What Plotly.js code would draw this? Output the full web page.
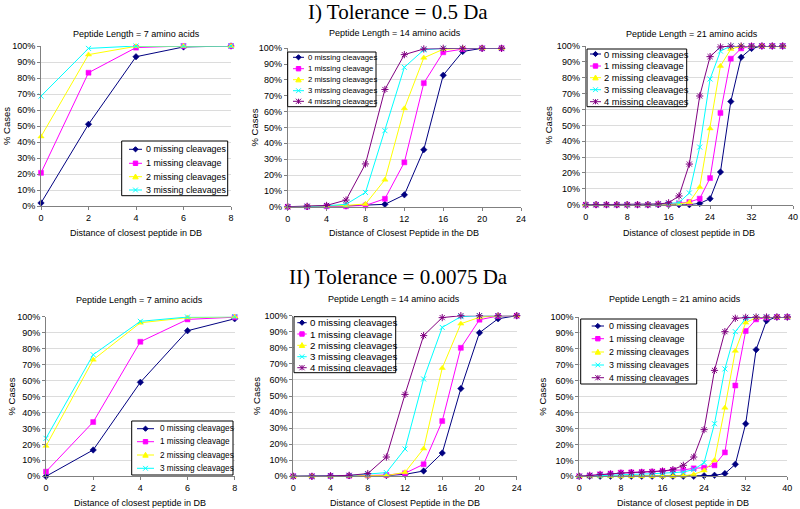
<!DOCTYPE html>
<html><head><meta charset="utf-8">
<script src="https://cdn.plot.ly/plotly-3.0.1.min.js"></script>
<style>html,body{margin:0;padding:0;background:#fff}#chart{width:800px;height:509px}</style>
</head><body><div id="chart"></div>
<script>
// ---------- DATA ----------
const seriesNames = ['0 missing cleavages','1 missing cleavage','2 missing cleavages','3 missing cleavages','4 missing cleavages'];
const sectionTitles = ['I) Tolerance = 0.5 Da','II) Tolerance = 0.0075 Da'];
const panelTitles = ['Peptide Length = 7 amino acids','Peptide Length = 14 amino acids','Peptide Length = 21 amino acids',
                     'Peptide Length = 7 amino acids','Peptide Length = 14 amino acids','Peptide Length = 21 amino acids'];
const xTitles = ['Distance of closest peptide in DB','Distance of Closest Peptide in the DB','Distance of closest peptide in DB',
                 'Distance of closest peptide in DB','Distance of Closest Peptide in the DB','Distance of closest peptide in DB'];
const yTitle = '% Cases';

// Tolerance 0.5 Da
const xA7  = [0,2,4,6,8];
const a7_0 = [1.9, 51.1, 93.3, 99.4, 100];
const a7_1 = [20.7, 83.3, 99, 100, 100];
const a7_2 = [43.4, 94.6, 99.8, 100, 100];
const a7_3 = [68.7, 98.5, 100, 100, 100];

const xA14  = [0,2,4,6,8,10,12,14,16,18,20,22];
const a14_0 = [0, 0, 0.3, 0.5, 1, 1.5, 7.5, 36, 83, 98, 100, 100];
const a14_1 = [0, 0, 0.3, 0.3, 0.8, 5, 28, 78, 97.5, 99.5, 100, 100];
const a14_2 = [0, 0, 0.4, 0.8, 1.7, 17, 62, 94, 99.4, 100, 100, 100];
const a14_3 = [0, 0, 0.6, 1.5, 9, 48, 88, 99, 100, 100, 100, 100];
const a14_4 = [0, 0.3, 0.8, 4.2, 27, 74, 96, 99.6, 100, 100, 100, 100];

const xA21  = [0,2,4,6,8,10,12,14,16,18,20,22,24,26,28,30,32,34,36,38];
const a21_0 = [0,0,0,0,0,0,0,0,0,0,0, 0.8, 3.8, 20.6, 65, 92.9, 98.5, 100, 100, 100];
const a21_1 = [0,0,0,0,0,0,0,0.3,0.5,0.8, 1.7, 3.8, 16.8, 57.8, 92, 98.5, 100, 100, 100, 100];
const a21_2 = [0,0,0,0,0,0,0,0.2,0.3,0.5, 1.5, 11, 48, 87.4, 98, 100, 100, 100, 100, 100];
const a21_3 = [0,0,0,0,0,0,0,0.3,0.8,1.3, 7.4, 36.3, 79.2, 96.8, 100, 100, 100, 100, 100, 100];
const a21_4 = [0,0,0,0,0,0,0,0.4,1.2,5.5, 25.6, 68.5, 93.3, 99.4, 100, 100, 100, 100, 100, 100];

// Tolerance 0.0075 Da
const xB7  = [0,2,4,6,8];
const b7_0 = [0, 16.5, 58.9, 91.2, 98.7];
const b7_1 = [2.9, 34, 84.3, 98.3, 99.7];
const b7_2 = [19, 73, 96.2, 99.4, 100];
const b7_3 = [23.8, 76.2, 97.1, 99.8, 100];

const xB14  = [0,2,4,6,8,10,12,14,16,18,20,22,24];
const b14_0 = [0, 0, 0.2, 0.3, 0.4, 0.5, 1.2, 3.3, 14.5, 54.6, 89.4, 98.1, 100];
const b14_1 = [0, 0, 0.2, 0.3, 0.5, 0.8, 1.9, 7.5, 34.4, 80, 97.5, 99.8, 100];
const b14_2 = [0, 0, 0.1, 0.1, 0.2, 0.4, 2.5, 17.2, 67.4, 95, 99, 100, 100];
const b14_3 = [0, 0, 0.3, 0.5, 1.2, 2.3, 17, 60.6, 92.7, 99.4, 100, 100, 100];
const b14_4 = [0, 0, 0.3, 0.6, 1.7, 12, 51, 87.6, 98.8, 100, 100, 100, 100];

const xB21  = [0,2,4,6,8,10,12,14,16,18,20,22,24,26,28,30,32,34,36,38,40];
const b21_0 = [0,0,0,0,0,0,0,0,0,0,0,0, 0.4, 0.6, 1.7, 7.5, 33, 79.5, 97.7, 100, 100];
const b21_1 = [0, 0.5, 1.2, 1.7, 2.3, 2.5, 2.7, 2.9, 3.3, 3.8, 4, 5, 5.4, 6.9, 15, 57, 91.2, 98.5, 99.6, 100, 100];
const b21_2 = [0,0,0,0,0,0,0,0,0,0, 0.3, 1.2, 3.6, 10, 43, 78.7, 96.4, 99.6, 100, 100, 100];
const b21_3 = [0, 0.3, 0.5, 0.8, 1, 1.2, 1.4, 1.6, 2, 2.7, 2.7, 4.2, 8.6, 33, 67.4, 90.8, 99, 100, 100, 100, 100];
const b21_4 = [0, 0.6, 1.2, 1.5, 2, 2.3, 2.5, 2.7, 3.3, 4.2, 6.9, 12.1, 29.3, 66.5, 90.8, 99.2, 99.8, 100, 100, 100, 100];

const panelX = [xA7, xA14, xA21, xB7, xB14, xB21];
const panelY = [[a7_0,a7_1,a7_2,a7_3],[a14_0,a14_1,a14_2,a14_3,a14_4],[a21_0,a21_1,a21_2,a21_3,a21_4],
                [b7_0,b7_1,b7_2,b7_3],[b14_0,b14_1,b14_2,b14_3,b14_4],[b21_0,b21_1,b21_2,b21_3,b21_4]];
const xRanges = [[0,8],[0,24],[0,40],[0,8],[0,24],[0,40]];
const xDticks = [2,4,8,2,4,8];

// ---------- STYLE / LAYOUT ----------
const W = 800, H = 509;
const px = p => p / W, py = p => 1 - p / H;
const colors  = ['#000080','#FF00FF','#FFFF00','#00FFFF','#800080'];
const symbols = ['diamond','square','triangle-up','x-thin-open','asterisk-open'];
const msizes  = [5, 5, 5.5, 5, 6];
const FONT = 'Liberation Sans, Arial, sans-serif';

// plot areas in pixels: [left, right, top, bottom]
const boxes = [[41,231,46,206],[287.7,521,48.3,206.7],[585.7,793,46,204.7],
               [46,234.7,316.7,476.3],[293.3,516.7,315.7,476.3],[579.3,787.3,317,476.3]];
const titleY = [34,33,34,299.7,299,299];
const titleX = [136,395,692,139.5,394,675.3];
const xTitleY = [232.7,232.7,232.7,503,503,503];
const yTitleX = [7,254,548,11,256,543];
// legend geometry in pixels
const legends = [
  {box:[121.7,141,227.7,195.7], rows:[149.3,163.3,176.7,190], s:[129,142], tx:144.3, fs:8.9},
  {box:[287.7,52,376,106.7], rows:[57.3,68.7,79.7,90.7,101.3], s:[293,304], tx:305.5, fs:7.7},
  {box:[587,49,686.7,106.7], rows:[54,66,77.7,89.7,101.7], s:[590,601], tx:602, fs:9.4},
  {box:[131.7,421,233,475], rows:[428.7,441.7,455,468.3], s:[137,154], tx:157.5, fs:8.2},
  {box:[294,316.7,395.7,372.7], rows:[322.7,334,345.3,356.7,367.7], s:[297.3,306.7], tx:307.5, fs:9.7},
  {box:[580.7,319,696.7,384], rows:[326,338.7,352,365,377.7], s:[591.7,604], tx:606.5, fs:8.9}
];

function markerPath(k, cx, cy) {
  const P = (x, y) => px(x).toFixed(5) + ',' + py(y).toFixed(5);
  if (k === 0) { const r = 2.6; return `M${P(cx,cy-r)}L${P(cx+r,cy)}L${P(cx,cy+r)}L${P(cx-r,cy)}Z`; }
  if (k === 1) { const r = 2.2; return `M${P(cx-r,cy-r)}L${P(cx+r,cy-r)}L${P(cx+r,cy+r)}L${P(cx-r,cy+r)}Z`; }
  if (k === 2) { const r = 2.7; return `M${P(cx,cy-r)}L${P(cx+r,cy+r*0.8)}L${P(cx-r,cy+r*0.8)}Z`; }
  if (k === 3) { const r = 2.4; return `M${P(cx-r,cy-r)}L${P(cx+r,cy+r)}M${P(cx+r,cy-r)}L${P(cx-r,cy+r)}`; }
  const r = 2.6;
  return `M${P(cx-r,cy-r)}L${P(cx+r,cy+r)}M${P(cx+r,cy-r)}L${P(cx-r,cy+r)}M${P(cx,cy-r)}L${P(cx,cy+r)}`;
}

const data = [];
const layout = {
  width: W, height: H, margin: {l:0, r:0, t:0, b:0},
  paper_bgcolor: '#fff', plot_bgcolor: '#fff', showlegend: false,
  font: {family: FONT, size: 9, color: '#000'},
  annotations: [], shapes: []
};

panelX.forEach((xs, p) => {
  const sfx = p === 0 ? '' : String(p + 1);
  const b = boxes[p];
  layout['xaxis' + sfx] = {
    domain: [px(b[0]), px(b[1])], anchor: 'y' + sfx, range: xRanges[p], tick0: 0, dtick: xDticks[p],
    showgrid: false, zeroline: false, showline: true, linecolor: '#808080', linewidth: 1,
    ticks: 'outside', ticklen: 3, tickcolor: '#808080', tickfont: {family: FONT, size: 9, color: '#000'}, fixedrange: true
  };
  layout['yaxis' + sfx] = {
    domain: [py(b[3]), py(b[2])], anchor: 'x' + sfx, range: [0, 100], tick0: 0, dtick: 10, ticksuffix: '%',
    showgrid: true, gridcolor: '#dcdcdc', gridwidth: 1, zeroline: false, showline: true, linecolor: '#808080', linewidth: 1,
    ticks: 'outside', ticklen: 3, tickcolor: '#808080', tickfont: {family: FONT, size: 9, color: '#000'}, fixedrange: true
  };
  panelY[p].forEach((ys, k) => {
    const open = k >= 3;
    data.push({
      type: 'scatter', mode: 'lines+markers', x: xs, y: ys, name: seriesNames[k],
      xaxis: 'x' + sfx, yaxis: 'y' + sfx, cliponaxis: false,
      line: {color: colors[k], width: 1},
      marker: {symbol: symbols[k], size: msizes[k], color: colors[k], line: {color: colors[k], width: open ? 1 : 0.5}}
    });
  });
  // titles
  layout.annotations.push({xref:'paper', yref:'paper', x: px(titleX[p]), y: py(titleY[p]), xanchor:'center', yanchor:'middle',
    text: panelTitles[p], showarrow:false, font:{family:FONT, size:9, color:'#000'}});
  layout.annotations.push({xref:'paper', yref:'paper', x: px((b[0]+b[1])/2), y: py(xTitleY[p]), xanchor:'center', yanchor:'middle',
    text: xTitles[p], showarrow:false, font:{family:FONT, size:9, color:'#000'}});
  layout.annotations.push({xref:'paper', yref:'paper', x: px(yTitleX[p]), y: py((b[2]+b[3])/2), xanchor:'center', yanchor:'middle',
    text: yTitle, textangle:-90, showarrow:false, font:{family:FONT, size:9.5, color:'#000'}});
  // legend
  const L = legends[p];
  layout.shapes.push({type:'rect', xref:'paper', yref:'paper', x0:px(L.box[0]), x1:px(L.box[2]), y0:py(L.box[3]), y1:py(L.box[1]),
    line:{color:'#000', width:1}, fillcolor:'#fff', layer:'above'});
  panelY[p].forEach((ys, k) => {
    const ry = L.rows[k];
    layout.shapes.push({type:'line', xref:'paper', yref:'paper', x0:px(L.s[0]), x1:px(L.s[1]), y0:py(ry), y1:py(ry),
      line:{color:colors[k], width:1}, layer:'above'});
    const filled = k < 3;
    layout.shapes.push({type:'path', xref:'paper', yref:'paper', path: markerPath(k, (L.s[0]+L.s[1])/2, ry),
      fillcolor: filled ? colors[k] : 'rgba(0,0,0,0)', line:{color:colors[k], width:1}, layer:'above'});
    layout.annotations.push({xref:'paper', yref:'paper', x: px(L.tx), y: py(ry), xanchor:'left', yanchor:'middle',
      text: seriesNames[k], showarrow:false, font:{family:FONT, size:L.fs, color:'#000'}});
  });
});

// section titles
layout.annotations.push({xref:'paper', yref:'paper', x:0.4975, y:py(12), xanchor:'center', yanchor:'middle',
  text: sectionTitles[0], showarrow:false, font:{family:'Liberation Serif, DejaVu Serif, serif', size:21, color:'#000'}});
layout.annotations.push({xref:'paper', yref:'paper', x:0.4975, y:py(277), xanchor:'center', yanchor:'middle',
  text: sectionTitles[1], showarrow:false, font:{family:'Liberation Serif, DejaVu Serif, serif', size:21, color:'#000'}});

Plotly.newPlot('chart', data, layout, {displayModeBar:false, staticPlot:true});
</script>
</body></html>
